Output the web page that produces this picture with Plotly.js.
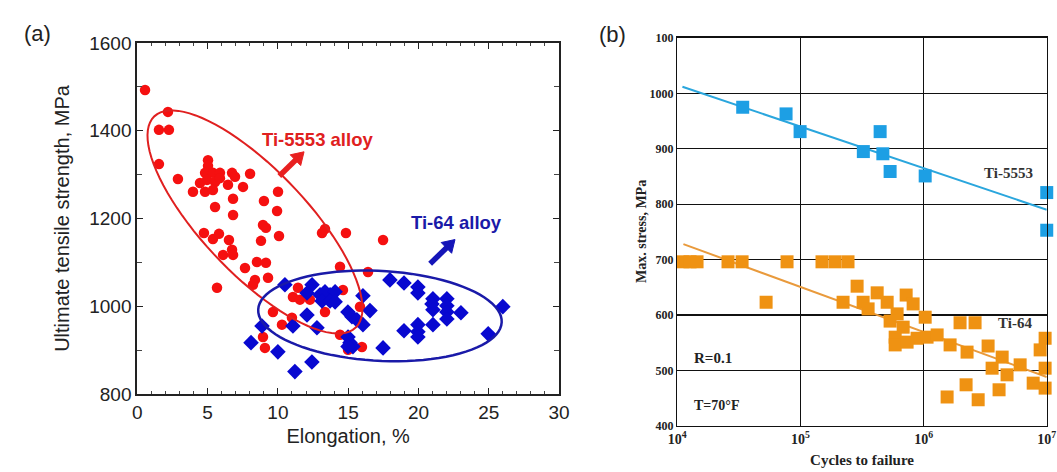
<!DOCTYPE html>
<html><head><meta charset="utf-8">
<script src="https://cdn.plot.ly/plotly-3.0.1.min.js"></script>
<style>html,body{margin:0;padding:0;background:#fff}#chart{width:1057px;height:472px}</style>
</head><body><div id="chart"></div><script>
// ---------- Panel (a): tensile strength vs elongation ----------
const ti5553_elong = [0.55,2.18,1.54,2.25,1.54,2.89,5.03,5.03,4.82,5.38,5.88,6.74,8.02,4.46,4.96,5.53,5.88,6.45,6.95,7.52,3.96,4.82,5.38,6.81,5.53,6.81,10.01,9.01,9.94,8.94,9.15,10.08,8.80,4.74,5.38,5.81,6.52,6.74,6.10,6.81,8.51,9.15,7.66,13.14,13.35,14.84,17.48,9.30,8.37,8.23,5.67,14.42,16.41,11.43,11.07,11.57,12.28,14.63,9.65,13.35,15.84,10.29,11.00,8.94,9.08,14.42,14.99,15.98];
const ti5553_uts = [1493,1443,1402,1402,1324,1290,1333,1320,1304,1304,1304,1304,1302,1281,1288,1283,1292,1277,1295,1272,1261,1261,1265,1245,1226,1208,1261,1240,1217,1185,1179,1160,1149,1167,1153,1165,1151,1129,1117,1117,1101,1099,1087,1167,1176,1167,1151,1065,1060,1049,1042,1090,1078,1042,1021,1015,1015,1037,987,987,999,958,974,930,905,935,901,907];
const ti64_elong = [10.50,12.43,12.07,13.00,13.35,13.71,14.07,13.14,13.71,14.07,16.05,12.07,14.98,16.55,15.27,15.62,16.05,12.78,11.07,8.87,14.99,15.13,15.34,14.99,17.48,10.00,12.42,11.21,8.09,17.97,18.97,19.96,19.96,21.03,22.02,20.96,22.02,21.03,22.02,23.02,22.02,26.0,19.96,21.03,18.97,19.96,19.96,24.96];
const ti64_uts = [1049,1049,1030,1026,1033,1026,1033,1012,1012,1010,1024,980,987,990,976,969,958,951,955,955,930,917,908,908,905,896,873,851,917,1060,1053,1044,1030,1017,1017,1005,1001,992,987,985,971,999,958,958,944,942,930,937];
const elongTicks = [0,5,10,15,20,25,30];
const utsTicks = [800,1000,1200,1400,1600];

// ---------- Panel (b): S-N fatigue data ----------
const fat5553_cycles = [33960,76400,99300,324000,443600,466700,534600,1030000,10000000,10000000];
const fat5553_stress = [975,963,931,895,931,891,859,851,821,753];
const fat64_cycles = [11120,12680,14460,25800,33570,77800,149600,191000,243300,52600,288400,221800,322800,354300,419600,505800,721600,822000,1030000,609500,534600,682300,587500,587500,734500,885100,1067000,1288000,1641000,2254000,1977000,2618000,3340000,4345000,3600000,6080000,4760000,9700000,8840000,9700000,7760000,9700000,2213000,4100000,1552000,2774000];
const fat64_stress = [696,696,696,696,696,696,696,696,696,623,652,623,623,611,640,623,636,620,596,602,589,578,560,546,551,558,560,564,546,533,586,586,544,524,504,510,492,558,537,504,477,468,474,465,452,447];
const fit5553_cycles = [11000,10000000];
const fit5553_stress = [1012,790];
const fit64_cycles = [11200,10000000];
const fit64_stress = [728,488];
const cycleTicks = [1e4,1e5,1e6,1e7];
const cycleTickText = ['10<sup>4</sup>','10<sup>5</sup>','10<sup>6</sup>','10<sup>7</sup>'];
const stressTicks = [400,500,600,700,800,900,1000,1100];
const stressTickText = ['400','500','600','700','800','900','1000','100'];

const W = 1057, H = 472;
const domA = {x:[0.1299,0.5289], y:[0.1653,0.9089], xr:[0,30], yr:[800,1600]};
const domB = {x:[0.6408,0.9903], y:[0.0979,0.9195]};

// ellipse outlines (centre + two semi-axis vectors, data units)
const redEllipse = {cx:8.37, cy:1192, ux:7.16, uy:-240.8, vx:2.68, vy:81.8};
const blueEllipse = {cx:17.26, cy:978, ux:8.66, uy:-14.6, vx:0.168, vy:102.3};
function ellipsePath(e){
  let d='';
  for(let i=0;i<=90;i++){
    const t=2*Math.PI*i/90;
    const x=e.cx+e.ux*Math.cos(t)+e.vx*Math.sin(t);
    const y=e.cy+e.uy*Math.cos(t)+e.vy*Math.sin(t);
    d+=(i?'L':'M')+x.toFixed(4)+','+y.toFixed(3);
  }
  return d+'Z';
}
// thick arrow (shaft + triangular head) in panel (a) data units
const pxX = (domA.x[1]-domA.x[0])*W/(domA.xr[1]-domA.xr[0]);
const pxY = (domA.y[1]-domA.y[0])*H/(domA.yr[1]-domA.yr[0]);
function arrowShapes(tail, head, color){
  const dx=(head[0]-tail[0])*pxX, dy=(head[1]-tail[1])*pxY;
  const len=Math.hypot(dx,dy), ux=dx/len, uy=dy/len, nx=-uy, ny=ux;
  const L=12, hw=7.5;
  const bx=head[0]-ux*L/pxX, by=head[1]-uy*L/pxY;
  const p1=[bx+nx*hw/pxX, by+ny*hw/pxY], p2=[bx-nx*hw/pxX, by-ny*hw/pxY];
  return [
    {type:'line', xref:'x', yref:'y', x0:tail[0], y0:tail[1], x1:bx+ux*1/pxX, y1:by+uy*1/pxY, line:{color:color, width:5.5}},
    {type:'path', xref:'x', yref:'y', path:'M'+head[0]+','+head[1]+'L'+p1[0]+','+p1[1]+'L'+p2[0]+','+p2[1]+'Z',
     fillcolor:color, line:{color:color, width:1}}
  ];
}

const sans = 'Liberation Sans, Arial, sans-serif';
const serif = 'Liberation Serif, Times New Roman, serif';

const traces = [
  {x:ti5553_elong, y:ti5553_uts, type:'scatter', mode:'markers', name:'Ti-5553',
   marker:{symbol:'circle', size:10.5, color:'#f51010'}, xaxis:'x', yaxis:'y', cliponaxis:false},
  {x:ti64_elong, y:ti64_uts, type:'scatter', mode:'markers', name:'Ti-64',
   marker:{symbol:'diamond', size:12, color:'#0808d0'}, xaxis:'x', yaxis:'y', cliponaxis:false},
  {x:fit5553_cycles, y:fit5553_stress, type:'scatter', mode:'lines', name:'Ti-5553 fit',
   line:{color:'#2aa6dd', width:2}, xaxis:'x2', yaxis:'y2'},
  {x:fit64_cycles, y:fit64_stress, type:'scatter', mode:'lines', name:'Ti-64 fit',
   line:{color:'#e99a3c', width:2}, xaxis:'x2', yaxis:'y2'},
  {x:fat5553_cycles, y:fat5553_stress, type:'scatter', mode:'markers', name:'Ti-5553 S-N',
   marker:{symbol:'square', size:13, color:'#1d9fe4'}, xaxis:'x2', yaxis:'y2', cliponaxis:false},
  {x:fat64_cycles, y:fat64_stress, type:'scatter', mode:'markers', name:'Ti-64 S-N',
   marker:{symbol:'square', size:13, color:'#ef9212'}, xaxis:'x2', yaxis:'y2', cliponaxis:false}
];

const layout = {
  width:W, height:H, margin:{l:0,r:0,t:0,b:0}, showlegend:false,
  paper_bgcolor:'#fff', plot_bgcolor:'#fff',
  xaxis:{domain:domA.x, range:domA.xr, anchor:'y', tickvals:elongTicks,
    showline:true, linecolor:'#222', linewidth:2, mirror:'allticks', ticks:'inside', ticklen:6, tickcolor:'#222',
    minor:{dtick:1, ticks:'inside', ticklen:3, tickcolor:'#444'},
    showgrid:false, zeroline:false, tickfont:{family:sans, size:19, color:'#222'},
    title:{text:'Elongation, %', font:{family:sans, size:20, color:'#222'}, standoff:7}},
  yaxis:{domain:domA.y, range:domA.yr, anchor:'x', tickvals:utsTicks,
    showline:true, linecolor:'#222', linewidth:2, mirror:'allticks', ticks:'inside', ticklen:6, tickcolor:'#222',
    minor:{dtick:100, ticks:'inside', ticklen:5, tickcolor:'#444'},
    showgrid:false, zeroline:false, tickfont:{family:sans, size:19, color:'#222'},
    title:{text:'Ultimate tensile strength, MPa', font:{family:sans, size:20, color:'#222'}, standoff:14}},
  xaxis2:{domain:domB.x, type:'log', range:[4,7], anchor:'y2', tickvals:cycleTicks, ticktext:cycleTickText,
    showline:true, linecolor:'#111', linewidth:1.5, mirror:true, ticks:'',
    showgrid:true, gridcolor:'#111', gridwidth:1.2, zeroline:false,
    tickfont:{family:serif, size:14, color:'#222', weight:'bold'},
    title:{text:'Cycles to failure', font:{family:serif, size:15, color:'#222', weight:'bold'}, standoff:8}},
  yaxis2:{domain:domB.y, range:[400,1100], anchor:'x2', tickvals:stressTicks, ticktext:stressTickText,
    showline:true, linecolor:'#111', linewidth:1.5, mirror:true, ticks:'',
    showgrid:true, gridcolor:'#111', gridwidth:1.2, zeroline:false,
    tickfont:{family:serif, size:12, color:'#222', weight:'bold'}},
  shapes:[
    {type:'path', xref:'x', yref:'y', path:ellipsePath(redEllipse), line:{color:'#e02020', width:2}},
    {type:'path', xref:'x', yref:'y', path:ellipsePath(blueEllipse), line:{color:'#1a1aa8', width:2.5}}
  ].concat(arrowShapes([10.1,1297],[11.86,1352],'#e82020'), arrowShapes([20.83,1097],[22.6,1152],'#1515b8')),
  annotations:[
    {text:'(a)', xref:'paper', yref:'paper', x:22/W, y:1-19/H, showarrow:false, font:{family:sans, size:22, color:'#222'}},
    {text:'(b)', xref:'paper', yref:'paper', x:612/W, y:1-20/H, showarrow:false, font:{family:sans, size:22, color:'#222'}},
    {text:'<b>Max. stress, MPa</b>', xref:'paper', yref:'paper', x:641/W, y:1-232/H, textangle:-90, showarrow:false,
      font:{family:serif, size:14, color:'#222'}},
    {text:'<b>Ti-5553 alloy</b>', xref:'x', yref:'y', x:12.85, y:1379, showarrow:false, font:{family:sans, size:18.5, color:'#e02020'}},
    {text:'<b>Ti-64 alloy</b>', xref:'x', yref:'y', x:22.74, y:1190, showarrow:false, font:{family:sans, size:18.5, color:'#1a1aa8'}},
    {text:'<b>Ti-5553</b>', xref:'x2', yref:'y2', x:6.686, y:856, showarrow:false, font:{family:serif, size:15, color:'#333'}},
    {text:'<b>Ti-64</b>', xref:'x2', yref:'y2', x:6.743, y:586, showarrow:false, font:{family:serif, size:15, color:'#333'}},
    {text:'<b>R=0.1</b>', xref:'x2', yref:'y2', x:4.29, y:522, showarrow:false, font:{family:serif, size:15, color:'#222'}},
    {text:'<b>T=70°F</b>', xref:'x2', yref:'y2', x:4.32, y:437, showarrow:false, font:{family:serif, size:14, color:'#222'}}
  ]
};
Plotly.newPlot('chart', traces, layout, {displayModeBar:false, staticPlot:true});
</script></body></html>
